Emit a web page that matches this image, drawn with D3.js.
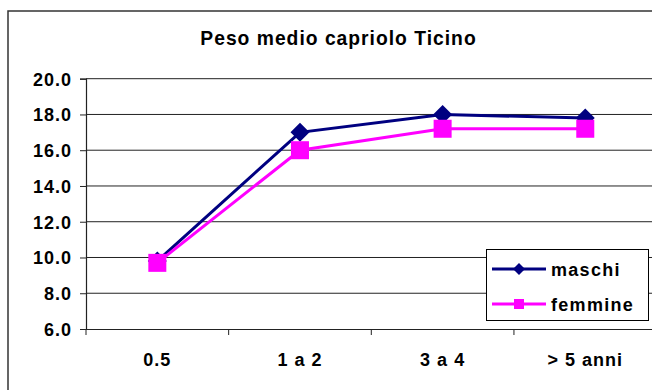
<!DOCTYPE html>
<html><head><meta charset="utf-8">
<script src="https://cdn.jsdelivr.net/npm/d3@7"></script>
<style>
html,body{margin:0;padding:0;background:#fff;}
svg{display:block;font-family:"Liberation Sans",Arial,sans-serif;font-weight:bold;}
</style></head>
<body><svg id="c" width="652" height="390"></svg>
<script>
const title = "Peso medio capriolo Ticino";
const categories = ["0.5", "1 a 2", "3 a 4", "> 5 anni"];
const maschi = [9.8, 17.0, 18.0, 17.8];
const femmine = [9.7, 16.0, 17.2, 17.2];
const yTicks = [6, 8, 10, 12, 14, 16, 18, 20];
const seriesNames = ["maschi", "femmine"];

(function () {
const svg = d3.select("#c");
const pLeft = 86, pRight = 656.6, pTop = 78.7, pBottom = 329;
const x = d3.scaleBand().domain(categories).range([pLeft, pRight]).padding(0);
const y = d3.scaleLinear().domain([6, 20]).range([pBottom, pTop]);

// outer frame
svg.append("rect").attr("x", 8).attr("y", 11).attr("width", 700).attr("height", 500)
  .attr("fill", "#fff").attr("stroke", "#333").attr("stroke-width", 1.5);

// title
svg.append("text").attr("x", 338.5).attr("y", 45).attr("text-anchor", "middle")
  .attr("font-size", "19.3px").attr("letter-spacing", "1px").attr("fill", "#000").text(title);

// gridlines
svg.append("g").selectAll("line").data(yTicks.filter(d => d > 6)).join("line")
  .attr("x1", pLeft).attr("x2", pRight).attr("y1", d => y(d)).attr("y2", d => y(d))
  .attr("stroke", "#222").attr("stroke-width", 1);

// y axis
const yAxis = svg.append("g").attr("transform", `translate(${pLeft},0)`)
  .call(d3.axisLeft(y).tickValues(yTicks).tickFormat(d3.format(".1f")).tickSize(6).tickPadding(8));
yAxis.select(".domain").attr("stroke", "#222").attr("stroke-width", 1.2);
yAxis.selectAll(".tick line").attr("stroke", "#222");
yAxis.selectAll("text").attr("font-size", "18px").attr("letter-spacing", "1px")
  .attr("font-family", "Liberation Sans, Arial, sans-serif").attr("font-weight", "bold").attr("fill", "#000")
  .attr("dy", "0.36em");

// x axis
const xAxis = svg.append("g").attr("transform", `translate(0,${pBottom})`)
  .call(d3.axisBottom(x).tickSize(0).tickPadding(24));
xAxis.select(".domain").attr("stroke", "#222").attr("stroke-width", 1.2);
xAxis.selectAll("text").attr("font-size", "18px").attr("letter-spacing", "1px")
  .attr("font-family", "Liberation Sans, Arial, sans-serif").attr("font-weight", "bold").attr("fill", "#000");
// category separator ticks
svg.append("g").selectAll("line").data(categories).join("line")
  .attr("x1", d => x(d)).attr("x2", d => x(d)).attr("y1", pBottom).attr("y2", pBottom + 6)
  .attr("stroke", "#222").attr("stroke-width", 1);

const cx = d => x(d) + x.bandwidth() / 2;
const line = d3.line().x(d => cx(d.c)).y(d => y(d.v));
const dM = categories.map((c, i) => ({c, v: maschi[i]}));
const dF = categories.map((c, i) => ({c, v: femmine[i]}));

const diamond = (g, px, py, r) => g.append("path")
  .attr("d", `M${px},${py - r}L${px + r},${py}L${px},${py + r}L${px - r},${py}Z`);

// maschi
svg.append("path").datum(dM).attr("d", line).attr("fill", "none")
  .attr("stroke", "#000080").attr("stroke-width", 3);
const gm = svg.append("g").attr("fill", "#000080");
dM.forEach(d => diamond(gm, cx(d.c), y(d.v), 9.5));

// femmine
svg.append("path").datum(dF).attr("d", line).attr("fill", "none")
  .attr("stroke", "#FF00FF").attr("stroke-width", 3);
svg.append("g").selectAll("rect").data(dF).join("rect")
  .attr("x", d => cx(d.c) - 9).attr("y", d => y(d.v) - 9).attr("width", 18).attr("height", 18)
  .attr("fill", "#FF00FF");

// legend
const lg = svg.append("g");
lg.append("rect").attr("x", 486.5).attr("y", 249.5).attr("width", 162).attr("height", 71)
  .attr("fill", "#fff").attr("stroke", "#000").attr("stroke-width", 1);
const colors = ["#000080", "#FF00FF"];
const rowY = [269, 304];
seriesNames.forEach((n, i) => {
  lg.append("line").attr("x1", 492).attr("x2", 546).attr("y1", rowY[i]).attr("y2", rowY[i])
    .attr("stroke", colors[i]).attr("stroke-width", 3);
  if (i === 0) {
    const g = lg.append("g").attr("fill", colors[i]);
    diamond(g, 519, rowY[i], 6);
  } else {
    lg.append("rect").attr("x", 514).attr("y", rowY[i] - 5).attr("width", 10).attr("height", 10).attr("fill", colors[i]);
  }
  lg.append("text").attr("x", 551).attr("y", rowY[i] + 6.5).attr("font-size", "18px")
    .attr("letter-spacing", "1.3px").attr("fill", "#000").text(n);
});
})();
</script></body></html>
